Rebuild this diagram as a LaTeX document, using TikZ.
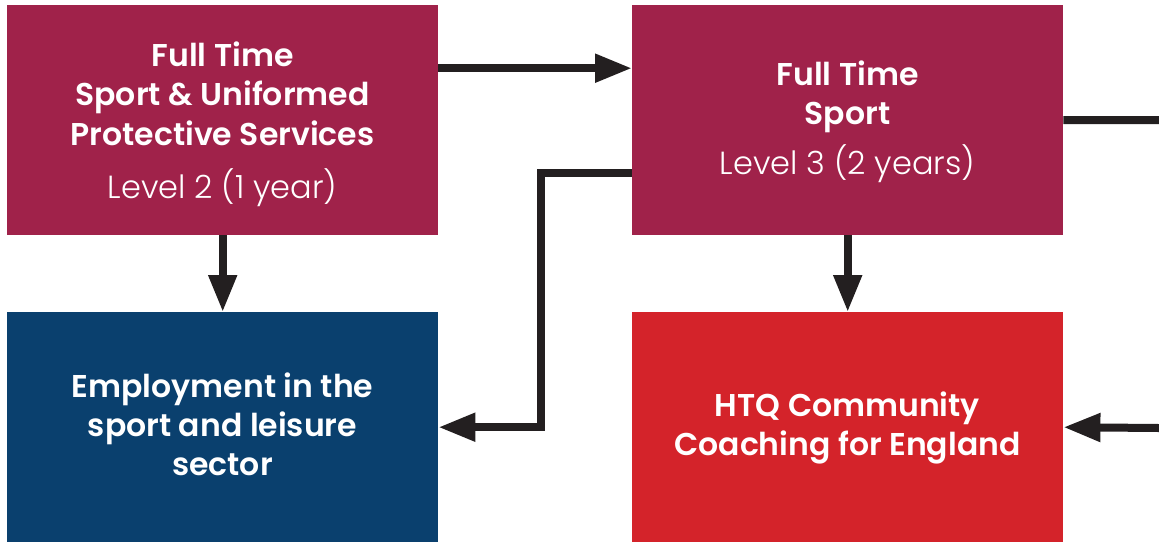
\documentclass[tikz,border=0pt]{standalone}
\usepackage{fontspec}
\setmainfont{Poppins}
\newfontfamily\poplight{Poppins Light}
\newfontfamily\popsemi{Poppins SemiBold}
\usetikzlibrary{arrows.meta}
\definecolor{maroon}{HTML}{A0224A}
\definecolor{navy}{HTML}{0A406E}
\definecolor{brightred}{HTML}{D4232A}
\definecolor{ink}{HTML}{231F20}
\tikzset{
  box/.style={draw=none, minimum width=431pt, minimum height=230pt, inner sep=0pt},
  title/.style={text=white, font=\fontsize{31.5}{38}\selectfont\popsemi, anchor=base, inner sep=0pt},
  sub/.style={text=white, font=\fontsize{32}{38}\selectfont\poplight, anchor=base, inner sep=0pt},
  conn/.style={draw=ink, line width=8pt, line join=miter},
  arr/.style={conn, -{Triangle[length=37pt,width=27pt]}},
}
\begin{document}
\begin{tikzpicture}[x=1pt,y=-1pt]
\useasboundingbox (0,0) rectangle (1159,542);
\node[box, fill=maroon, anchor=north west] (A) at (7,5) {};
\node[box, fill=maroon, anchor=north west] (B) at (632,5) {};
\node[box, fill=navy, anchor=north west] (C) at (7,312) {};
\node[box, fill=brightred, anchor=north west] (D) at (632,312) {};

\node[title] (a1) at (222.5,66) {Full Time};
\node[title] (a2) at (222.5,105) {Sport \& Uniformed};
\node[title] (a3) at (222.5,145) {Protective Services};
\node[sub] (a4) at (222.5,198) {Level 2 (1 year)};

\node[title] (b1) at (847.5,85) {Full Time};
\node[title] (b2) at (847.5,124) {Sport};
\node[sub] (b3) at (847.5,174) {Level 3 (2 years)};

\node[title] (c1) at (222.5,397) {Employment in the};
\node[title] (c2) at (222.5,436) {sport and leisure};
\node[title] (c3) at (222.5,475) {sector};

\node[title] (d1) at (847.5,416) {HTQ Community};
\node[title] (d2) at (847.5,455) {Coaching for England};

\coordinate (rout) at (1159,120);
\coordinate (rin) at (1159,428);

\draw[arr] ([yshift=52pt]A.east) -- ([yshift=52pt]B.west);
\draw[arr] (A.south) -- (C.north);
\draw[arr] (B.south) -- (D.north);
\draw[arr] ([yshift=-53pt]B.west) -- ++(-91,0) |- (C.east);
\draw[conn] (B.east) -- (rout);
\draw[arr] (rin) -- (D.east);
\end{tikzpicture}
\end{document}
